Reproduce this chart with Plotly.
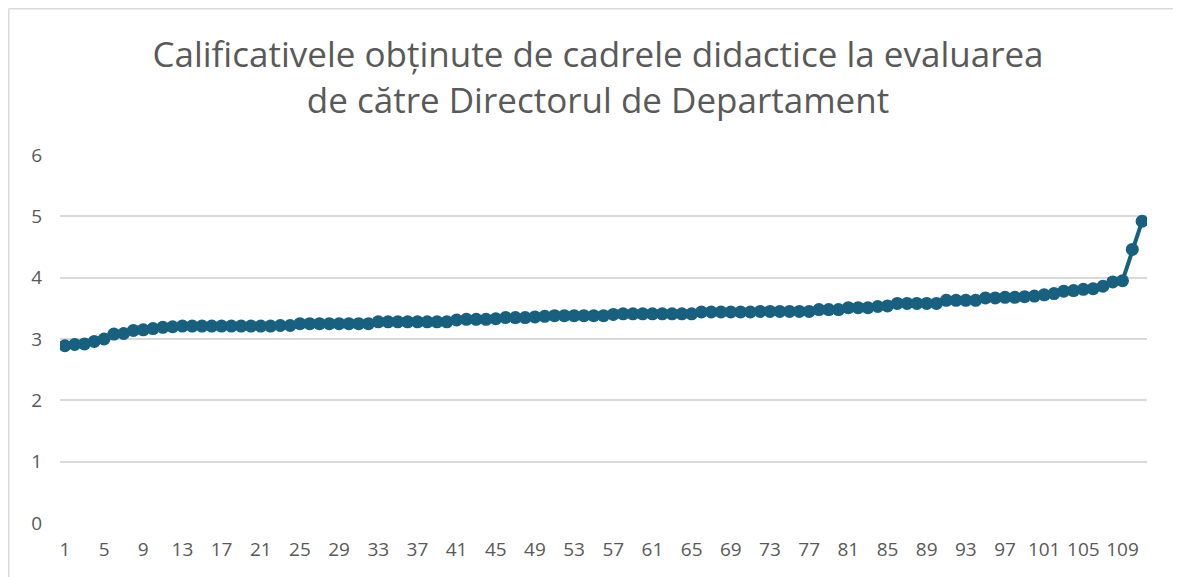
import plotly.graph_objects as go

title_line1 = "Calificativele obținute de cadrele didactice la evaluarea"
title_line2 = "de către Directorul de Departament"

positions = list(range(1, 112))
scores = [
    2.89, 2.91, 2.92, 2.96, 3.00, 3.08, 3.09, 3.14, 3.15, 3.17, 3.19, 3.20,
    3.21, 3.21, 3.21, 3.21, 3.21, 3.21, 3.21, 3.21, 3.21, 3.21, 3.22, 3.22,
    3.25, 3.25, 3.25, 3.25, 3.25, 3.25, 3.25, 3.25,
    3.28, 3.28, 3.28, 3.28, 3.28, 3.28, 3.28, 3.28,
    3.31, 3.32, 3.32, 3.32, 3.33,
    3.35, 3.35, 3.35, 3.36, 3.37,
    3.38, 3.38, 3.38, 3.38, 3.38, 3.38,
    3.40, 3.41, 3.41, 3.41, 3.41, 3.41, 3.41, 3.41, 3.41,
    3.44, 3.44, 3.44, 3.44, 3.44, 3.44, 3.45, 3.45, 3.45, 3.45, 3.45, 3.45,
    3.48, 3.48, 3.48,
    3.51, 3.51, 3.51,
    3.53, 3.54,
    3.58, 3.58, 3.58, 3.58, 3.58,
    3.63, 3.63, 3.63, 3.63,
    3.67, 3.67, 3.68, 3.68, 3.69, 3.70,
    3.72, 3.74,
    3.78, 3.79,
    3.81, 3.82,
    3.86,
    3.93,
    3.95,
    4.46,
    4.92,
]
x_tick_values = list(range(1, 112, 4))
y_tick_values = [0, 1, 2, 3, 4, 5, 6]

line_color = "#17607F"
text_color = "#595959"
grid_color = "#D9D9D9"

fig = go.Figure()
fig.add_trace(go.Scatter(
    x=positions, y=scores, mode="lines+markers",
    line=dict(color=line_color, width=4),
    marker=dict(color=line_color, size=13),
    hoverinfo="x+y", showlegend=False,
))

# figure sits inside the page body (8px margin); the chart frame runs past the window
W, H = 1181, 577
ml, mr, mt, mb = 52, 42, 147, 62
pw, ph = W - ml - mr, H - mt - mb

bx = (0.75 - ml) / pw          # left border line (paper coords)
by = 1 + (mt - 0.75) / ph      # top border line (paper coords)
right_edge = (W - ml) / pw
bottom_edge = -mb / ph

fig.update_layout(
    width=W, height=H,
    margin=dict(l=ml, r=mr, t=mt, b=mb, autoexpand=False),
    paper_bgcolor="white", plot_bgcolor="white",
    font=dict(family="Open Sans, Liberation Sans, Arial, sans-serif", color=text_color, size=19),
    title=dict(
        text=title_line1 + "<br>" + title_line2,
        x=590 / W, xanchor="center", y=1 - 59 / H, yanchor="middle",
        font=dict(size=35, color=text_color),
    ),
    xaxis=dict(
        range=[0.5, 111.5], tickmode="array", tickvals=x_tick_values,
        ticktext=[str(v) for v in x_tick_values],
        showgrid=False, zeroline=False, showline=False, ticks="",
        ticklabelstandoff=13, tickangle=0, automargin=False,
    ),
    yaxis=dict(
        range=[0, 6], tickmode="array", tickvals=y_tick_values,
        showgrid=True, gridcolor=grid_color, gridwidth=1.5,
        zeroline=False, showline=False, ticks="",
        ticklabelstandoff=17, automargin=False,
    ),
    shapes=[
        dict(type="line", xref="paper", yref="paper",
             x0=bx, x1=bx, y0=bottom_edge, y1=by,
             line=dict(color=grid_color, width=1.5), layer="below"),
        dict(type="line", xref="paper", yref="paper",
             x0=bx, x1=right_edge, y0=by, y1=by,
             line=dict(color=grid_color, width=1.5), layer="below"),
    ],
)

fig.write_html("out.html", post_script="document.body.style.overflow='hidden';")
